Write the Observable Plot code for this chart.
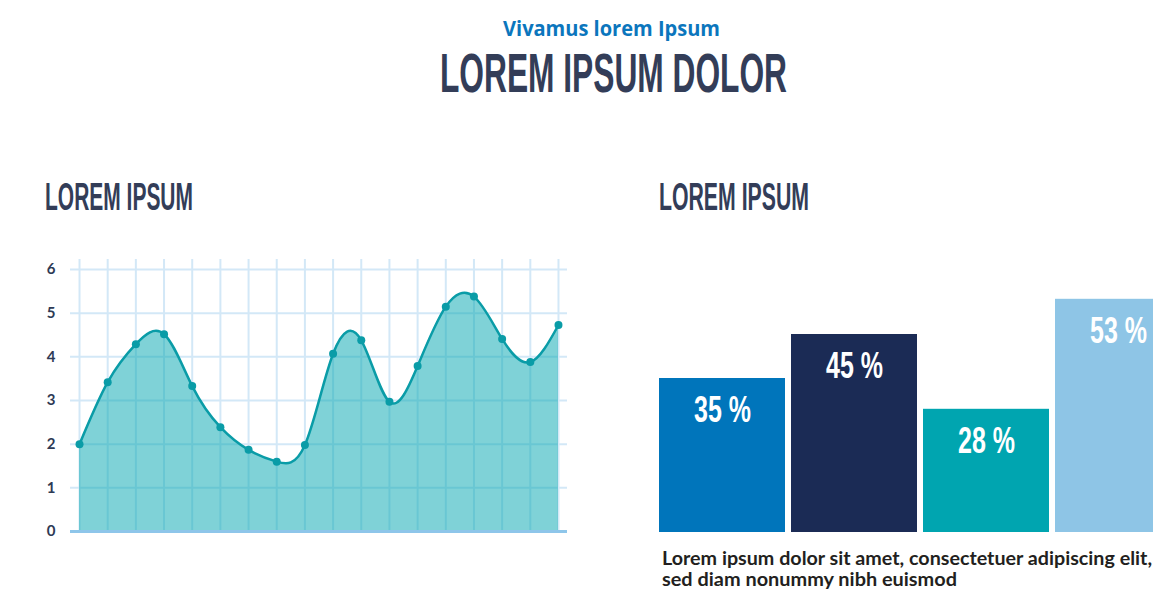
<!DOCTYPE html>
<html><head><meta charset="utf-8">
<script src="https://cdn.jsdelivr.net/npm/d3@7"></script>
<script src="https://cdn.jsdelivr.net/npm/@observablehq/plot@0.6"></script>
<style>
html,body{margin:0;padding:0;background:#fff;overflow:hidden;width:1153px;height:590px;}
#root{position:relative;width:1153px;height:590px;overflow:hidden;}
.abs{position:absolute;}
.abs svg{max-width:none !important;}
</style></head><body><div id="root">
<div id="left" class="abs" style="left:0;top:240px;width:600px"></div>
<div id="right" class="abs" style="left:640px;top:280px;width:513px"></div>
</div>
<script>
// ---- data ----
const subtitle = "Vivamus lorem Ipsum";
const mainTitle = "LOREM IPSUM DOLOR";
const leftTitle = "LOREM IPSUM";
const rightTitle = "LOREM IPSUM";
const captionLines = ["Lorem ipsum dolor sit amet, consectetuer adipiscing elit,", "sed diam nonummy nibh euismod"];

const lineValues = [2.0, 3.42, 4.29, 4.52, 3.33, 2.39, 1.87, 1.6, 1.98, 4.07, 4.38, 2.97, 3.79, 5.15, 5.38, 4.41, 3.88, 4.73];
const yTicks = [0, 1, 2, 3, 4, 5, 6];

const barCategories = ["A", "B", "C", "D"];
const barValues = [35, 45, 28, 53];
const barColors = ["#0075bb", "#1b2b55", "#00a5b0", "#8ec5e6"];

// ---- left chart ----
const lineData = lineValues.map((v, i) => ({i, v}));
const gridColor = "#d3e8f7";
const teal = "#0a9ca7";
const curve = "natural";
const left = Plot.plot({
  width: 600, height: 300,
  marginLeft: 70, marginRight: 33, marginTop: 19, marginBottom: 9,
  style: {fontFamily: "Lato, sans-serif", fontSize: "15px", fontWeight: 700, color: "#2e3a55", background: "transparent"},
  x: {domain: [-0.32, lineValues.length - 1 + 0.32], axis: null},
  y: {domain: [0, 6.23], ticks: yTicks, tickFormat: d => String(d), tickSize: 0, tickPadding: 15, label: null},
  marks: [
    Plot.ruleX(lineData, {x: "i", stroke: gridColor, strokeWidth: 2}),
    Plot.ruleY(yTicks.filter(d => d > 0), {stroke: gridColor, strokeWidth: 2}),
    Plot.areaY(lineData, {x: "i", y: "v", curve, fill: "#00a5b0", fillOpacity: 0.5}),
    Plot.ruleY([0], {stroke: "#8ec6ea", strokeWidth: 3}),
    Plot.lineY(lineData, {x: "i", y: "v", curve, stroke: teal, strokeWidth: 2.5}),
    Plot.dot(lineData, {x: "i", y: "v", r: 4, fill: teal})
  ]
});
document.getElementById("left").appendChild(left);

// ---- right chart (last bar runs past the page edge, as in the reference) ----
const barData = barCategories.map((c, i) => ({c, v: barValues[i]}));
const right = Plot.plot({
  width: 513, height: 260,
  marginLeft: 19, marginRight: -28, marginTop: 10, marginBottom: 8,
  style: {background: "transparent", overflow: "hidden"},
  x: {domain: barCategories, paddingInner: 0.0455, paddingOuter: 0, axis: null},
  y: {domain: [0, 55], axis: null},
  color: {domain: barCategories, range: barColors},
  marks: [
    Plot.barY(barData, {x: "c", y: "v", fill: "c"}),
    Plot.text(barData, {x: "c", y: "v", text: d => `${d.v} %`, dy: 32, fill: "white",
      fontSize: 36, fontWeight: 700, fontFamily: "Liberation Sans Narrow, Liberation Sans, sans-serif"})
  ]
});
document.getElementById("right").appendChild(right);
d3.select(right).selectAll("text").attr("textLength", 57).attr("lengthAdjust", "spacingAndGlyphs");

// ---- titles & caption overlay ----
const ov = d3.select("#root").append("svg")
  .attr("width", 1153).attr("height", 590)
  .style("position", "absolute").style("left", 0).style("top", 0).style("pointer-events", "none");
const cond = "Liberation Sans Narrow, Liberation Sans, sans-serif";
function t(str, x, y, size, len, fam, color, weight) {
  ov.append("text").attr("x", x).attr("y", y).attr("font-size", size).attr("font-family", fam)
    .attr("font-weight", weight || 700).attr("fill", color).attr("textLength", len)
    .attr("lengthAdjust", "spacingAndGlyphs").text(str);
}
t(subtitle, 503, 36, 21, 217, "Open Sans, sans-serif", "#0b76bd");
t(mainTitle, 440, 92, 56, 347, cond, "#333d58");
t(leftTitle, 45, 210, 38, 148, cond, "#333d58");
t(rightTitle, 659, 210, 38, 150, cond, "#333d58");
t(captionLines[0], 662, 565, 18, 490, "Lato, sans-serif", "#231f20");
t(captionLines[1], 662, 586, 18, 295, "Lato, sans-serif", "#231f20");
</script>
</body></html>
